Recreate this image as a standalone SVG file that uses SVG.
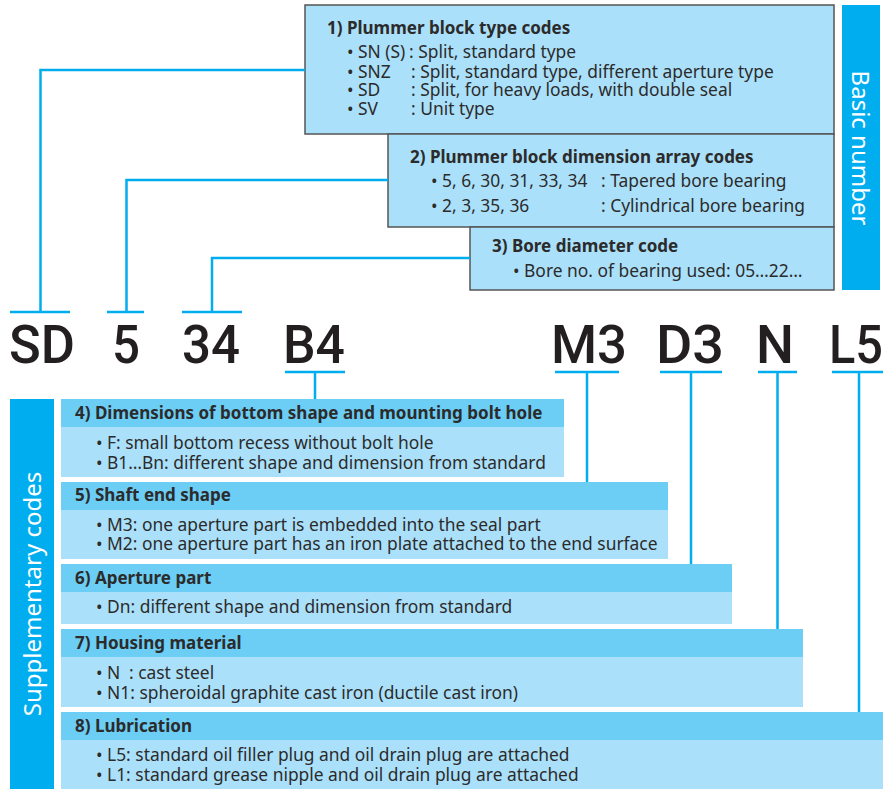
<svg xmlns="http://www.w3.org/2000/svg" width="883" height="789" viewBox="0 0 883 789">
<style>
.tb{fill:#abe0fa;stroke:#555;stroke-width:1.5}
.hd{fill:#6ccef5}
.bd{fill:#abe0fa}
.bar{fill:#00aeef}
.ln{stroke:#00aeef;stroke-width:2.5;fill:none}
.t{font-family:"Noto Sans","Open Sans",sans-serif;font-size:17.4px;fill:#2b2b2b}
.b{font-family:"Noto Sans","Open Sans",sans-serif;font-size:17px;font-weight:bold;fill:#2b2b2b}
.big{font-family:Roboto,"Liberation Sans",sans-serif;font-size:53px;font-weight:500;fill:#231f20}
.side{font-family:"Noto Sans","Open Sans",sans-serif;font-size:24px;fill:#fff}
</style>
<rect width="883" height="789" fill="#fff"/>

<g id="basic-bar">
<rect class="bar" x="842" y="5" width="38" height="285"/>
<text class="side" transform="translate(852,148) rotate(90)" text-anchor="middle">Basic number</text>
</g>

<g id="node1">
<rect class="tb" x="305" y="5" width="529" height="129"/>
<text class="b" x="327" y="34">1) Plummer block type codes</text>
<text class="t" y="58"><tspan x="347">• SN (S)</tspan><tspan x="409">: Split, standard type</tspan></text>
<text class="t" y="78"><tspan x="347">• SNZ</tspan><tspan x="411">: Split, standard type, different aperture type</tspan></text>
<text class="t" y="96"><tspan x="347">• SD</tspan><tspan x="411">: Split, for heavy loads, with double seal</tspan></text>
<text class="t" y="115"><tspan x="347">• SV</tspan><tspan x="411">: Unit type</tspan></text>
</g>

<g id="node2">
<rect class="tb" x="388" y="134" width="446" height="93"/>
<text class="b" x="410" y="163">2) Plummer block dimension array codes</text>
<text class="t" y="187"><tspan x="431">• 5, 6, 30, 31, 33, 34 </tspan><tspan x="601">: Tapered bore bearing</tspan></text>
<text class="t" y="212"><tspan x="431">• 2, 3, 35, 36</tspan><tspan x="601">: Cylindrical bore bearing</tspan></text>
</g>

<g id="node3">
<rect class="tb" x="470" y="227" width="364" height="63"/>
<text class="b" x="492" y="252">3) Bore diameter code</text>
<text class="t" x="513" y="277">• Bore no. of bearing used: 05…22…</text>
</g>

<g id="code">
<text class="big" x="9" y="363" textLength="66" lengthAdjust="spacingAndGlyphs">SD</text>
<text class="big" x="112" y="363" textLength="28" lengthAdjust="spacingAndGlyphs">5</text>
<text class="big" x="182" y="363" textLength="58" lengthAdjust="spacingAndGlyphs">34</text>
<text class="big" x="283" y="363" textLength="62" lengthAdjust="spacingAndGlyphs">B4</text>
<text class="big" x="551" y="363" textLength="76" lengthAdjust="spacingAndGlyphs">M3</text>
<text class="big" x="656" y="363" textLength="68" lengthAdjust="spacingAndGlyphs">D3</text>
<text class="big" x="756" y="363" textLength="38" lengthAdjust="spacingAndGlyphs">N</text>
<text class="big" x="829" y="363" textLength="54" lengthAdjust="spacingAndGlyphs">L5</text>
</g>

<g id="supp-bar">
<rect class="bar" x="10" y="399" width="44" height="390"/>
<text class="side" transform="translate(41,594) rotate(-90)" text-anchor="middle">Supplementary codes</text>
</g>

<g id="node4">
<rect class="hd" x="61" y="399" width="503" height="28"/>
<rect class="bd" x="61" y="427" width="503" height="50"/>
<text class="b" x="75" y="419">4) Dimensions of bottom shape and mounting bolt hole</text>
<text class="t" x="96" y="449">• F: small bottom recess without bolt hole</text>
<text class="t" x="96" y="469">• B1…Bn: different shape and dimension from standard</text>
</g>

<g id="node5">
<rect class="hd" x="61" y="482" width="607" height="28"/>
<rect class="bd" x="61" y="510" width="607" height="49"/>
<text class="b" x="75" y="501">5) Shaft end shape</text>
<text class="t" x="96" y="531">• M3: one aperture part is embedded into the seal part</text>
<text class="t" x="96" y="550">• M2: one aperture part has an iron plate attached to the end surface</text>
</g>

<g id="node6">
<rect class="hd" x="61" y="564" width="671" height="28"/>
<rect class="bd" x="61" y="592" width="671" height="32"/>
<text class="b" x="75" y="584">6) Aperture part</text>
<text class="t" x="96" y="613">• Dn: different shape and dimension from standard</text>
</g>

<g id="node7">
<rect class="hd" x="61" y="629" width="742" height="28"/>
<rect class="bd" x="61" y="657" width="742" height="50"/>
<text class="b" x="75" y="649">7) Housing material</text>
<text class="t" y="679"><tspan x="96">• N</tspan><tspan x="129">: cast steel</tspan></text>
<text class="t" x="96" y="699">• N1: spheroidal graphite cast iron (ductile cast iron)</text>
</g>

<g id="node8">
<rect class="hd" x="61" y="712" width="822" height="28"/>
<rect class="bd" x="61" y="740" width="822" height="49"/>
<text class="b" x="75" y="732">8) Lubrication</text>
<text class="t" x="96" y="761">• L5: standard oil filler plug and oil drain plug are attached</text>
<text class="t" x="96" y="781">• L1: standard grease nipple and oil drain plug are attached</text>
</g>

<g id="connectors">
<path class="ln" d="M305 70 H40.5 V312 M10 312 H70"/>
<path class="ln" d="M388 180 H126.5 V312 M107 312 H144"/>
<path class="ln" d="M470 258 H212 V312 M182 312 H242"/>
<path class="ln" d="M285 372 H345 M315 372 V399"/>
<path class="ln" d="M555 372 H619 M587 372 V482"/>
<path class="ln" d="M660 372 H722 M691 372 V564"/>
<path class="ln" d="M758 372 H797 M777.5 372 V629"/>
<path class="ln" d="M832 372 H883 M859 372 V712"/>
</g>
</svg>
